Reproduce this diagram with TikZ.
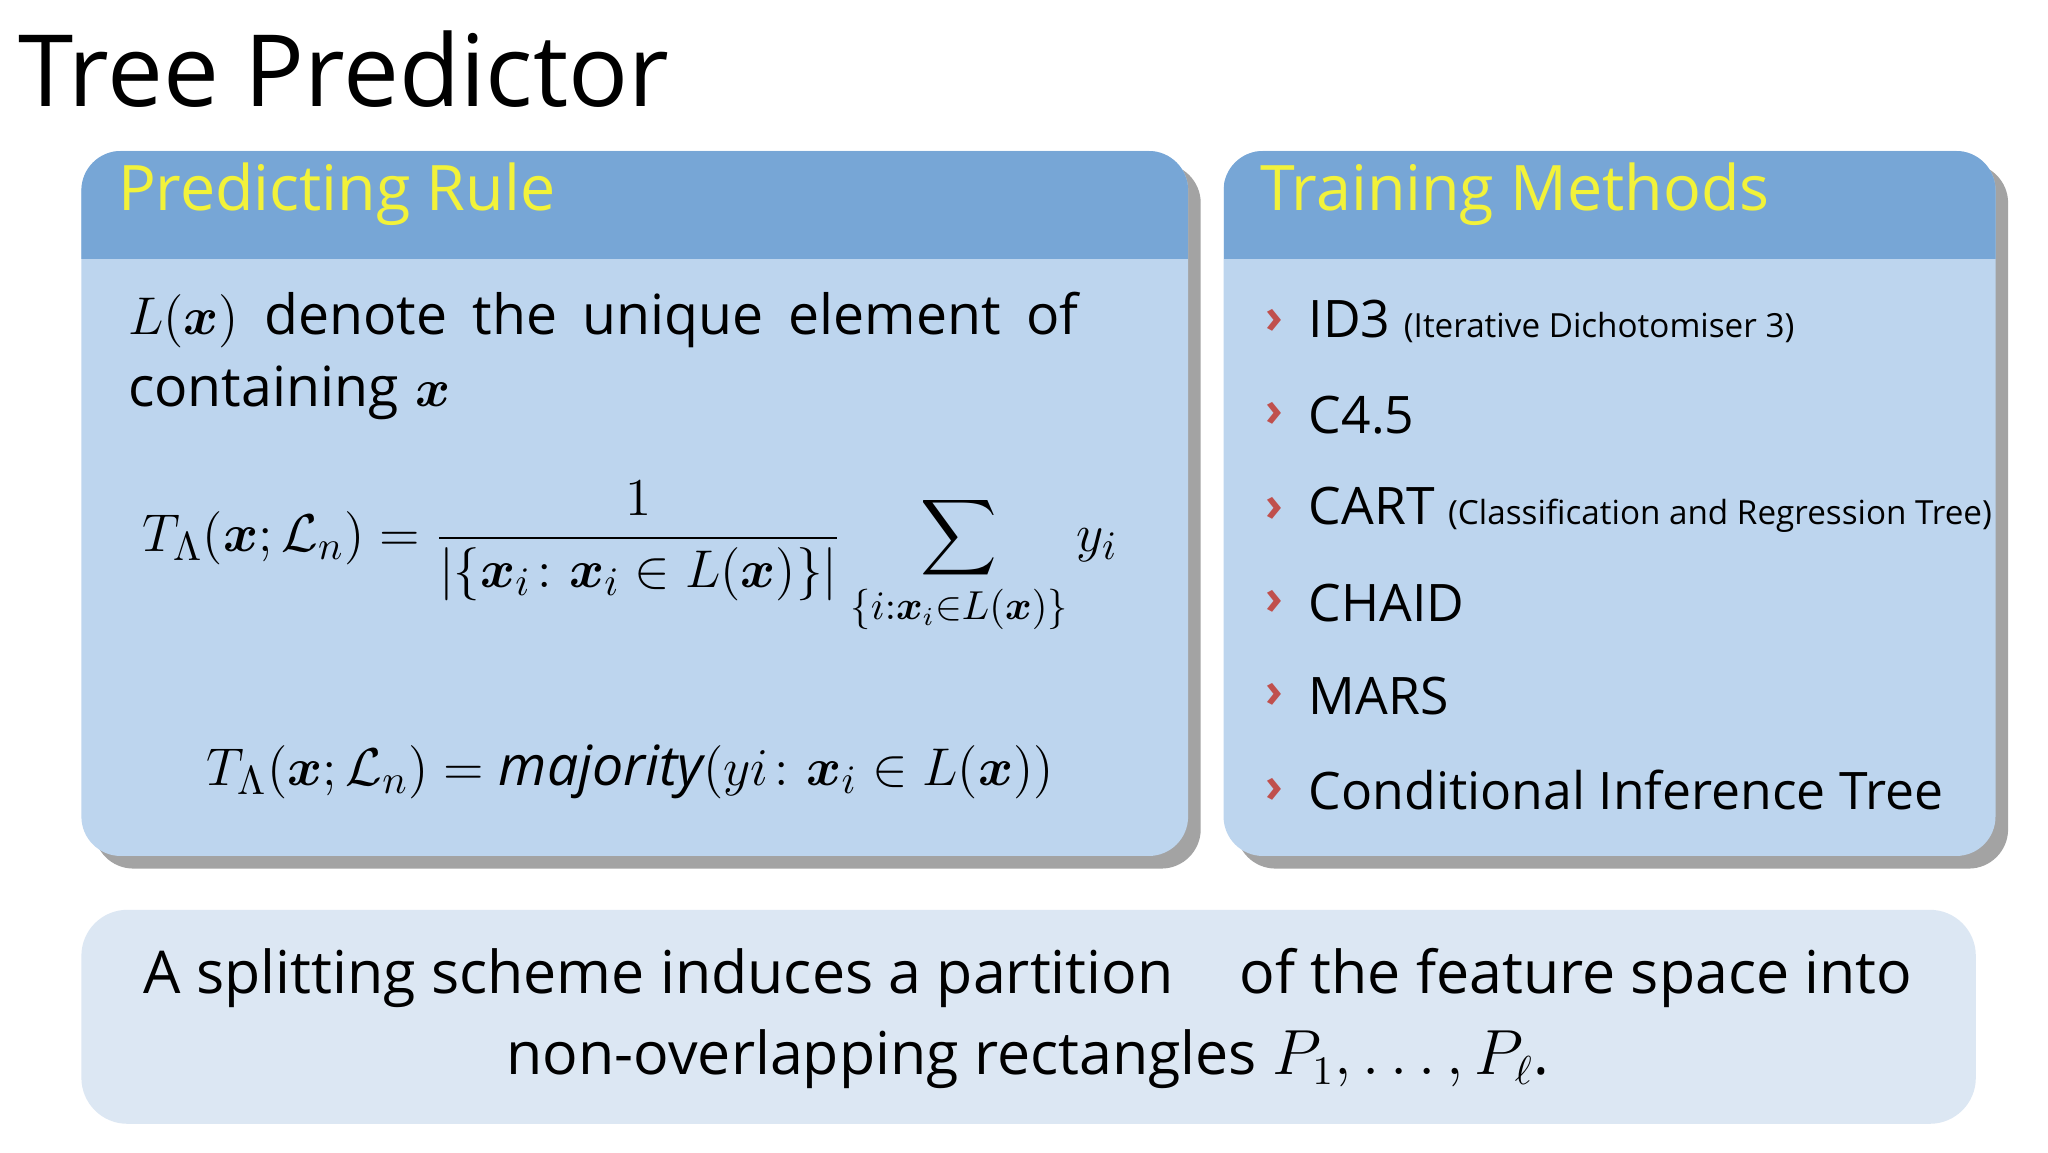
\documentclass[tikz,border=0pt]{standalone}
\usepackage{amsmath,bm}
\usepackage{fontspec}
\setmainfont{Open Sans}
\usetikzlibrary{shadows}
\definecolor{hdr}{HTML}{77A6D6}
\definecolor{bodyc}{HTML}{BDD5EE}
\definecolor{botc}{HTML}{DCE7F3}
\definecolor{ttl}{HTML}{F2F23A}
\definecolor{chev}{HTML}{C0504D}
\tikzset{
  panel/.style={fill=bodyc,rounded corners=30*0.125mm,drop shadow={shadow xshift=1.2mm,shadow yshift=-1.2mm,fill=black!45,opacity=.8}},
  hdrtxt/.style={anchor=west,text=ttl,font=\fontsize{17}{20}\selectfont},
  item/.style={anchor=west,font=\fontsize{14}{17}\selectfont},
  chv/.style={anchor=center,text=chev,font=\fontsize{13}{16}\selectfont\bfseries},
}
\newcommand{\sm}[1]{{\fontsize{9}{11}\selectfont #1}}
\begin{document}
\begin{tikzpicture}[x=0.0125cm,y=-0.0125cm]
\useasboundingbox (0,0) rectangle (1560,877.5);
\fill[white] (0,0) rectangle (1560,877.5);
\node[anchor=west,font=\fontsize{27}{32}\selectfont] (title) at (4,53) {Tree Predictor};
% left panel
\path[panel] (62,115) rectangle (905,652);
\begin{scope}
\clip[rounded corners=30*0.125mm] (62,115) rectangle (905,652);
\fill[hdr] (62,115) rectangle (905,197);
\end{scope}
\node[hdrtxt] (lh) at (80,148) {Predicting Rule};
\node[anchor=north west,inner sep=0,font=\fontsize{15}{19.5}\selectfont] (lt) at (97,222)
 {\parbox{9.6cm}{\spaceskip=0.3em plus 3em $L(\bm{x})$ denote the unique element of $\mathit{\Lambda}$ containing $\bm{x}$}};
\node[font=\fontsize{15}{18}\selectfont] (f1) at (480,425)
 {$T_{\Lambda}(\bm{x};\mathcal{L}_n)=\dfrac{1}{|\{\bm{x}_i\colon \bm{x}_i\in L(\bm{x})\}|}\displaystyle\sum_{\{i:\bm{x}_i\in L(\bm{x})\}} y_i$};
\node[font=\fontsize{15}{18}\selectfont] (f2) at (480,588)
 {$T_{\Lambda}(\bm{x};\mathcal{L}_n)=\mathit{majority}(yi\colon \bm{x}_i\in L(\bm{x}))$};
% right panel
\path[panel] (932,115) rectangle (1520,652);
\begin{scope}
\clip[rounded corners=30*0.125mm] (932,115) rectangle (1520,652);
\fill[hdr] (932,115) rectangle (1520,197);
\end{scope}
\node[hdrtxt] (rh) at (950,148) {Training Methods};
\foreach \y/\t [count=\i] in {245/{ID3 \sm{(Iterative Dichotomiser 3)}},316/C4.5,388/{CART \sm{(Classification and Regression Tree)}},459/CHAID,530/MARS,602/Conditional Inference Tree}{
  \node[chv] (c\i) at (971,\y) {›};
  \node[item] (t\i) at (987,\y) {\t};
}
% bottom
\fill[botc,rounded corners=35*0.125mm] (62,693) rectangle (1505,856);
\node[align=center,font=\fontsize{16}{22}\selectfont] (bt) at (783,776)
 {A splitting scheme induces a partition $\mathit{\Lambda}$ of the feature space into\\ non-overlapping rectangles $P_1,\ldots,P_\ell$.};
\end{tikzpicture}
\end{document}
